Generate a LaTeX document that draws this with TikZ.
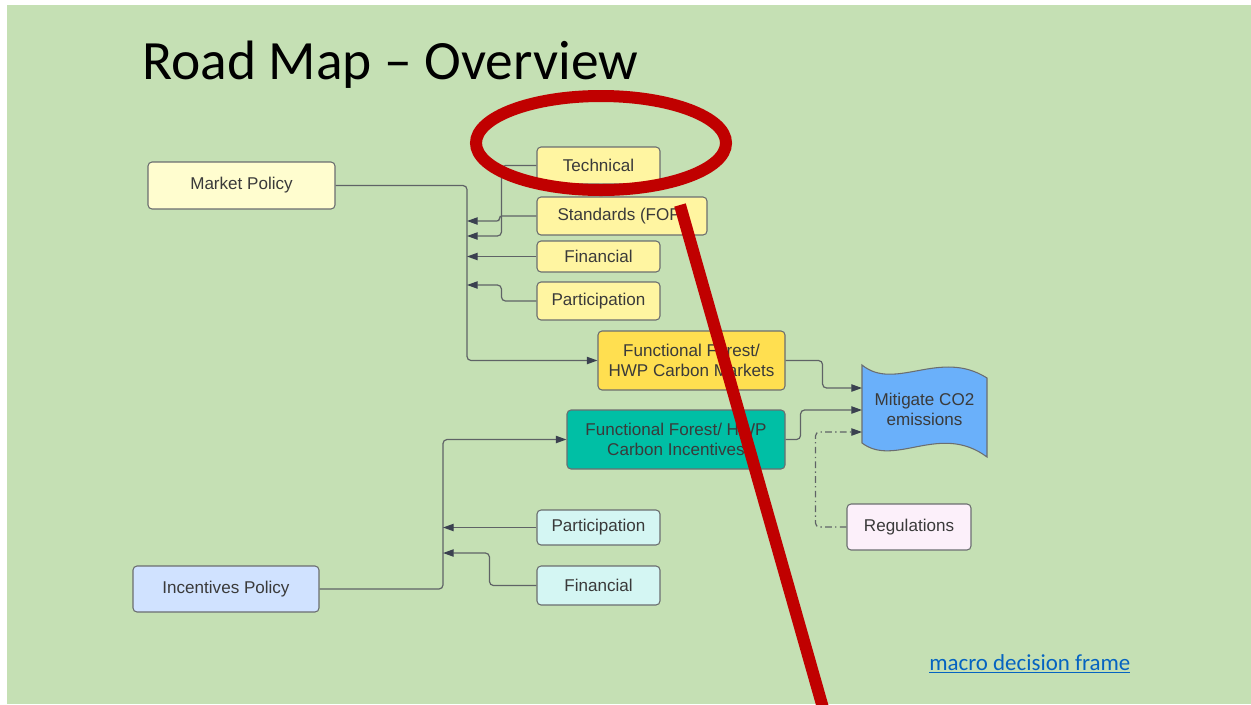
\documentclass[tikz,border=0pt]{standalone}
\usepackage{fontspec}
\setmainfont{Liberation Sans}
\newfontfamily\calibrifont{Carlito}
\usetikzlibrary{arrows.meta,positioning,calc}
\definecolor{slidegreen}{HTML}{C5E0B4}
\definecolor{boxline}{HTML}{6B6E70}
\definecolor{linkgray}{HTML}{5F6366}
\definecolor{tipgray}{HTML}{3B4150}
\definecolor{txtgray}{HTML}{3A3A3A}
\definecolor{marketyellow}{HTML}{FFFDCF}
\definecolor{paleyellow}{HTML}{FFF5A1}
\definecolor{goldyellow}{HTML}{FFDF50}
\definecolor{tealgreen}{HTML}{00BFA5}
\definecolor{skyblue}{HTML}{6AB0FA}
\definecolor{palepink}{HTML}{FCF0FA}
\definecolor{palecyan}{HTML}{D4F6F3}
\definecolor{paleblue}{HTML}{D0E2FF}
\definecolor{markred}{HTML}{C00000}
\definecolor{hyperblue}{HTML}{0563C1}
\def\px{0.75pt}

\begin{document}
\begin{tikzpicture}[x=0.75pt, y=-0.75pt,
    box/.style={draw=boxline, line width=0.8pt, rounded corners=3pt, inner sep=0pt,
        align=center, text=txtgray, font=\fontsize{12.8pt}{15pt}\selectfont},
    link/.style={draw=linkgray, line width=0.9pt, rounded corners=3pt,
        -{Triangle[length=8pt, width=5.5pt, color=tipgray]}},
    redmark/.style={draw=markred, line width=9pt}]
    \useasboundingbox (0,0) rectangle (1251,704);
    \fill[white] (0,0) rectangle (1251,704);
    \fill[slidegreen] (7,5) rectangle (1251,704);

    % Title
    \node[anchor=base west, inner sep=0pt, font=\calibrifont\fontsize{41.6pt}{50pt}\selectfont] (title) at (142,79) {Road Map – Overview};

    % Market side
    \node[box, fill=marketyellow, minimum width=187*\px, minimum height=47*\px] (market) at (241.5,185.5) {Market Policy};
    \node[box, fill=paleyellow, minimum width=123*\px, minimum height=37*\px] (tech) at (598.5,165.5) {Technical};
    \node[box, fill=paleyellow, minimum width=170*\px, minimum height=38*\px] (std) at (622,216) {Standards (FOP)};
    \node[box, fill=paleyellow, minimum width=123*\px, minimum height=31*\px] (fin) at (598.5,256.5) {Financial};
    \node[box, fill=paleyellow, minimum width=123*\px, minimum height=38*\px] (part) at (598.5,301) {Participation};
    \node[box, fill=goldyellow, minimum width=187*\px, minimum height=59*\px] (markets) at (691.5,360.5) {Functional Forest/\\HWP Carbon Markets};

    % Incentives side
    \node[box, fill=tealgreen, minimum width=218*\px, minimum height=59*\px] (incent) at (676,439.5) {Functional Forest/ HWP\\Carbon Incentives};
    \node[box, fill=palecyan, minimum width=123*\px, minimum height=35*\px] (ipart) at (598.5,527.5) {Participation};
    \node[box, fill=palecyan, minimum width=123*\px, minimum height=39*\px] (ifin) at (598.5,585.5) {Financial};
    \node[box, fill=paleblue, minimum width=186*\px, minimum height=46*\px] (ipol) at (226,589) {Incentives Policy};

    % Goal and regulations
    \filldraw[fill=skyblue, draw=boxline, line width=0.8pt]
        (862,365) .. controls (895,392) and (940,348) .. (987,378) -- (987,457)
        .. controls (940,422) and (895,468) .. (862,443) -- cycle;
    \node[box, draw=none, align=center, minimum width=125*\px, minimum height=80*\px] (mitig) at (924.5,409) {Mitigate CO2\\emissions};
    \node[box, fill=palepink, minimum width=124*\px, minimum height=46*\px] (reg) at (909,527) {Regulations};

    % Bus points
    \coordinate (busM) at (467,300);
    \coordinate (inS) at (467,221);
    \coordinate (inT) at (467,236);
    \coordinate (inP) at (467,285);
    \coordinate (busI) at (443,500);
    \coordinate (inIF) at (443,553);
    \coordinate (mA) at (862,388);
    \coordinate (mB) at (862,410);
    \coordinate (mC) at (862,432);

    % Connectors
    \draw[link] (market.east) -| (busM) |- (markets.west);
    \draw[link] (tech.west) -- ++(-35,0) |- (inT);
    \draw[link, rounded corners=2pt] (std.west) -- ++(-37,0) |- (inS);
    \draw[link] (fin.west) -- (fin.west -| busM);
    \draw[link] (part.west) -- ++(-35,0) |- (inP);
    \draw[link] (ipol.east) -| (busI) |- (incent.west);
    \draw[link] (ipart.west) -- (ipart.west -| busI);
    \draw[link] (ifin.west) -- ++(-47,0) |- (inIF);
    \draw[link] (markets.east) -- ++(37,0) |- (mA);
    \draw[link] (incent.east) -- ++(15,0) |- (mB);
    \draw[link, dash pattern=on 5pt off 2.5pt on 1pt off 2.5pt] (reg.west) -- ++(-31,0) |- (mC);

    % Link text
    \node[anchor=base west, inner sep=0pt, text=hyperblue, font=\calibrifont\fontsize{17.2pt}{21pt}\selectfont] (frame) at (929,670) {\underline{macro decision frame}};

    % Red marks on top
    \draw[redmark] (601,143) ellipse [x radius=125, y radius=47];
    \draw[redmark] (680,205) -- (825,715);
\end{tikzpicture}
\end{document}
